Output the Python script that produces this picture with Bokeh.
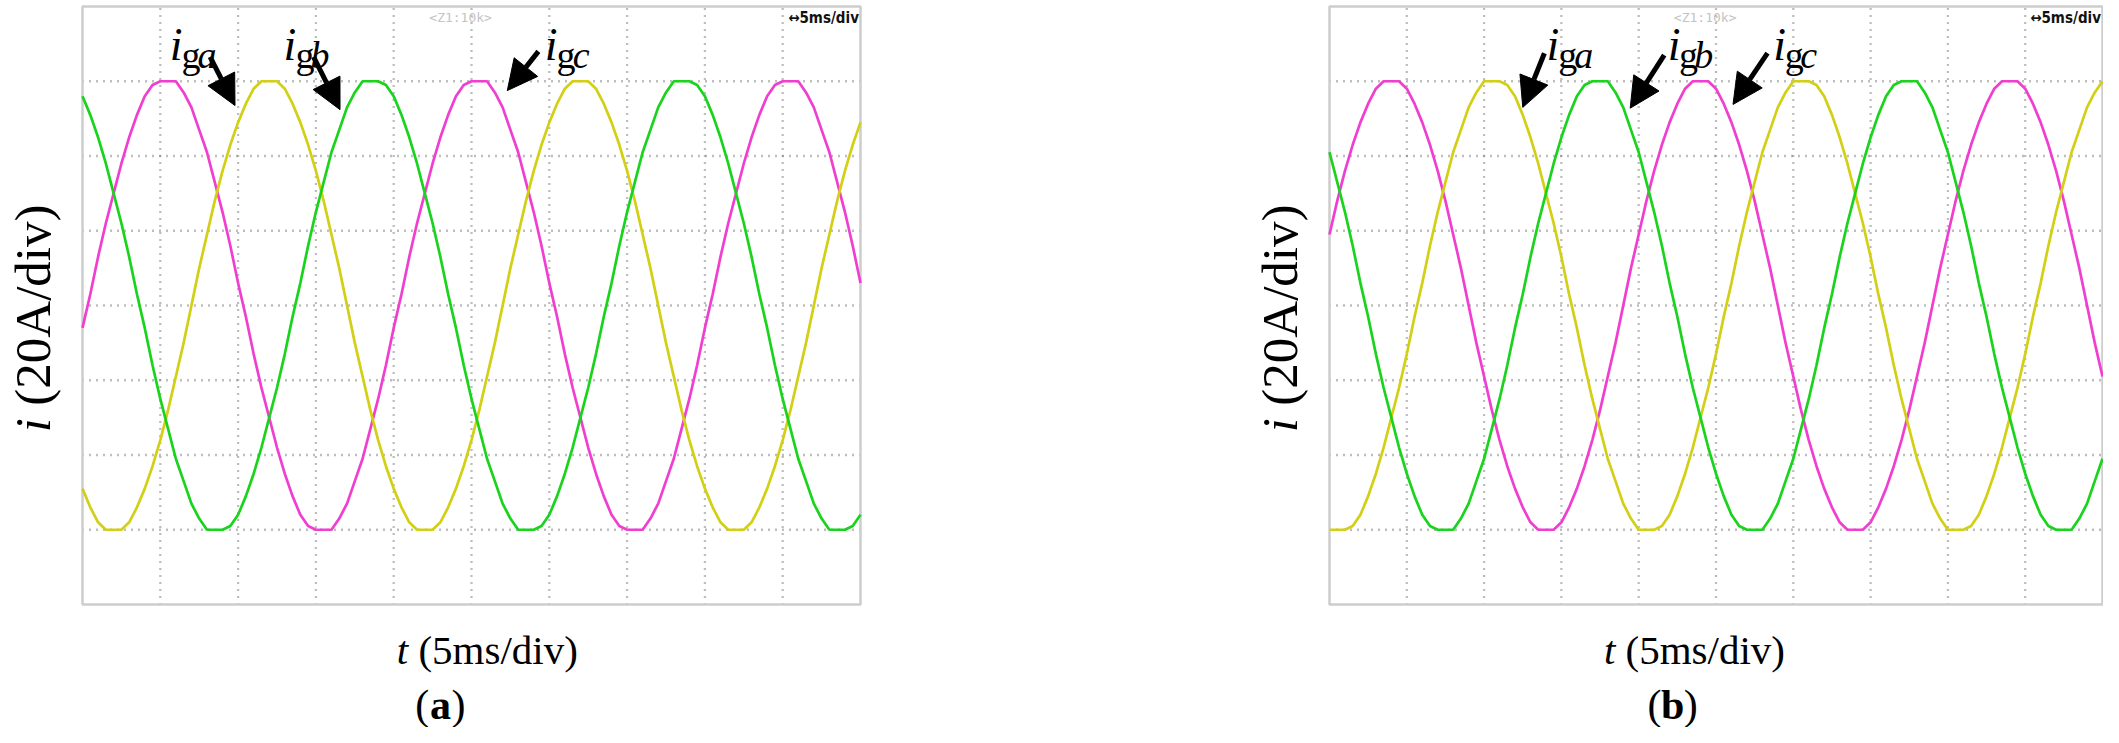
from bokeh.plotting import figure
from bokeh.layouts import row
from bokeh.models import Range1d, Label, Arrow, NormalHead
from bokeh.embed import file_html
from bokeh.resources import INLINE

# time samples (ms), 5 ms/div, 10 divisions
t_ms = [i * 0.5 for i in range(101)]

# ---- panel (a) currents, A (20 A/div) ----
ig_c_a = [-6,
          3, 13, 22, 30, 38, 45, 51, 56, 59, 60, 60, 60, 57, 53, 47, 41, 33, 25, 16, 6,
          -3, -13, -22, -30, -38, -45, -51, -56, -59, -60, -60, -60, -57, -53, -47, -41, -33, -25, -16, -6,
          3, 13, 22, 30, 38, 45, 51, 56, 59, 60, 60, 60, 57, 53, 47, 41, 33, 25, 16, 6,
          -3, -13, -22, -30, -38, -45, -51, -56, -59, -60, -60, -60, -57, -53, -47, -41, -33, -25, -16, -6,
          3, 13, 22, 30, 38, 45, 51, 56, 59, 60, 60, 60, 57, 53, 47, 41, 33, 25, 16, 6]
ig_a_a = [-49, -54, -58, -60, -60, -60, -58, -54, -49, -43, -36, -28, -19, -10,
          0, 10, 19, 28, 36, 43, 49, 54, 58, 60, 60, 60, 58, 54, 49, 43, 36, 28, 19, 10,
          0, -10, -19, -28, -36, -43, -49, -54, -58, -60, -60, -60, -58, -54, -49, -43, -36, -28, -19, -10,
          0, 10, 19, 28, 36, 43, 49, 54, 58, 60, 60, 60, 58, 54, 49, 43, 36, 28, 19, 10,
          0, -10, -19, -28, -36, -43, -49, -54, -58, -60, -60, -60, -58, -54, -49, -43, -36, -28, -19, -10,
          0, 10, 19, 28, 36, 43, 49]
ig_b_a = [56, 51, 45, 38, 30, 22, 13, 3, -6, -16, -25, -33, -41, -47, -53, -57, -60, -60, -60, -59,
          -56, -51, -45, -38, -30, -22, -13,
          -3, 6, 16, 25, 33, 41, 47, 53, 57, 60, 60, 60, 59, 56, 51, 45, 38, 30, 22, 13,
          3, -6, -16, -25, -33, -41, -47, -53, -57, -60, -60, -60, -59, -56, -51, -45, -38, -30, -22, -13,
          -3, 6, 16, 25, 33, 41, 47, 53, 57, 60, 60, 60, 59, 56, 51, 45, 38, 30, 22, 13,
          3, -6, -16, -25, -33, -41, -47, -53, -57, -60, -60, -60, -59, -56]

# ---- panel (b) currents ----
ig_c_b = [19, 28, 36, 43, 49, 54, 58, 60, 60, 60, 58, 54, 49, 43, 36, 28, 19, 10,
          0, -10, -19, -28, -36, -43, -49, -54, -58, -60, -60, -60, -58, -54, -49, -43, -36, -28, -19, -10,
          0, 10, 19, 28, 36, 43, 49, 54, 58, 60, 60, 60, 58, 54, 49, 43, 36, 28, 19, 10,
          0, -10, -19, -28, -36, -43, -49, -54, -58, -60, -60, -60, -58, -54, -49, -43, -36, -28, -19, -10,
          0, 10, 19, 28, 36, 43, 49, 54, 58, 60, 60, 60, 58, 54, 49, 43, 36, 28, 19, 10,
          0, -10, -19]
ig_a_b = [-60, -60, -60, -59, -56, -51, -45, -38, -30, -22, -13,
          -3, 6, 16, 25, 33, 41, 47, 53, 57, 60, 60, 60, 59, 56, 51, 45, 38, 30, 22, 13,
          3, -6, -16, -25, -33, -41, -47, -53, -57, -60, -60, -60, -59, -56, -51, -45, -38, -30, -22, -13,
          -3, 6, 16, 25, 33, 41, 47, 53, 57, 60, 60, 60, 59, 56, 51, 45, 38, 30, 22, 13,
          3, -6, -16, -25, -33, -41, -47, -53, -57, -60, -60, -60, -59, -56, -51, -45, -38, -30, -22, -13,
          -3, 6, 16, 25, 33, 41, 47, 53, 57, 60]
ig_b_b = [41, 33, 25, 16, 6, -3, -13, -22, -30, -38, -45, -51, -56, -59, -60, -60, -60, -57, -53,
          -47, -41, -33, -25, -16, -6,
          3, 13, 22, 30, 38, 45, 51, 56, 59, 60, 60, 60, 57, 53, 47, 41, 33, 25, 16, 6,
          -3, -13, -22, -30, -38, -45, -51, -56, -59, -60, -60, -60, -57, -53, -47, -41, -33, -25, -16, -6,
          3, 13, 22, 30, 38, 45, 51, 56, 59, 60, 60, 60, 57, 53, 47, 41, 33, 25, 16, 6,
          -3, -13, -22, -30, -38, -45, -51, -56, -59, -60, -60, -60, -57, -53, -47, -41]

t_div = [0, 5, 10, 15, 20, 25, 30, 35, 40, 45, 50]          # time divisions (ms)
i_div = [-80, -60, -40, -20, 0, 20, 40, 60, 80]             # current divisions (A)

col_a = "#d2cf14"   # i_ga yellow
col_b = "#19d31c"   # i_gb green
col_c = "#f03fd0"   # i_gc magenta
SERIF = "Liberation Serif"
INK = "#000000"

FIG_H = 727
SCOPE_TOP = 6          # px from figure top to screen top
SCOPE_H = 598          # px screen height
SCOPE_LEFT = 82        # px from figure left to screen left


def make_panel(ia, ib, ic, letter, fig_w, scope_w, labels, arrows, letter_x, tlab_x):
    xs = scope_w / (t_div[-1] - t_div[0])          # px per ms
    ys = SCOPE_H / (i_div[-1] - i_div[0])          # px per A
    x0 = t_div[0] - SCOPE_LEFT / xs
    x1 = t_div[0] + (fig_w - SCOPE_LEFT) / xs
    y1 = i_div[-1] + SCOPE_TOP / ys
    y0 = i_div[0] - (FIG_H - SCOPE_TOP - SCOPE_H) / ys
    p = figure(width=fig_w, height=FIG_H, x_range=Range1d(x0, x1), y_range=Range1d(y0, y1),
               x_axis_type=None, y_axis_type=None, title=None, toolbar_location=None,
               output_backend="svg", min_border=0, background_fill_color="white",
               border_fill_color="white")
    p.outline_line_color = None

    # dotted graticule
    vx = t_div[1:-1]
    hy = i_div[1:-1]
    p.segment(x0=vx, y0=[i_div[0]] * len(vx), x1=vx, y1=[i_div[-1]] * len(vx),
              line_color="#7d7d7d", line_width=2.3, line_dash="1 6")
    p.segment(x0=[t_div[0]] * len(hy), y0=hy, x1=[t_div[-1]] * len(hy), y1=hy,
              line_color="#7d7d7d", line_width=2.3, line_dash="1 6")
    p.quad(left=[t_div[0]], right=[t_div[-1]], bottom=[i_div[0]], top=[i_div[-1]],
           fill_color=None, line_color="#cdcdcd", line_width=2.5)

    p.line(t_ms, ic, line_color=col_c, line_width=2.7)
    p.line(t_ms, ia, line_color=col_a, line_width=2.7)
    p.line(t_ms, ib, line_color=col_b, line_width=2.7)

    # scope header texts
    p.add_layout(Label(x=24.3, y=77, text="<Z1:10k>", text_font="DejaVu Sans Mono",
                       text_font_size="13px", text_color="#c4c4c4", text_align="center",
                       text_baseline="middle"))
    p.add_layout(Label(x=49.9, y=76.8, text="\u21945ms/div", text_font="DejaVu Sans Condensed",
                       text_font_size="15px", text_font_style="bold", text_color="#111111",
                       text_align="right", text_baseline="middle"))

    # curve labels i_g{a,b,c}
    for (xi, xg, xs_, sub) in labels:
        p.add_layout(Label(x=xi, y=69.8, text="i", text_font=SERIF, text_font_size="46px",
                           text_font_style="italic", text_align="left", text_baseline="alphabetic",
                           text_color=INK))
        p.add_layout(Label(x=xg, y=66.9, text="g", text_font=SERIF, text_font_size="38px",
                           text_align="left", text_baseline="alphabetic", text_color=INK))
        p.add_layout(Label(x=xs_, y=66.9, text=sub, text_font=SERIF, text_font_size="38px",
                           text_font_style="italic", text_align="left", text_baseline="alphabetic",
                           text_color=INK))
    for (xa, ya, xb, yb) in arrows:
        p.add_layout(Arrow(end=NormalHead(size=30, fill_color="black", line_color="black"),
                           x_start=xa, y_start=ya, x_end=xb, y_end=yb,
                           line_width=5, line_color="black"))

    # axis titles
    p.add_layout(Label(x=-3.18, y=-33.9, text="i", text_font=SERIF, text_font_size="51px",
                       text_font_style="italic", angle=1.5708, text_align="left",
                       text_baseline="middle", text_color=INK))
    p.add_layout(Label(x=-3.18, y=-26.8, text="(20A/div)", text_font=SERIF, text_font_size="51px",
                       angle=1.5708, text_align="left", text_baseline="middle", text_color=INK))
    p.add_layout(Label(x=tlab_x, y=-92.2, text="t", text_font=SERIF, text_font_size="41px",
                       text_font_style="italic", text_align="left", text_baseline="alphabetic",
                       text_color=INK))
    p.add_layout(Label(x=tlab_x + 21.6 / xs, y=-92.2, text="(5ms/div)", text_font=SERIF,
                       text_font_size="41px", text_align="left", text_baseline="alphabetic",
                       text_color=INK))
    # panel letter
    cx = letter_x
    p.add_layout(Label(x=cx - 0.72, y=-107, text="(", text_font=SERIF, text_font_size="42px",
                       text_align="right", text_baseline="alphabetic", text_color=INK))
    p.add_layout(Label(x=cx, y=-107, text=letter, text_font=SERIF, text_font_size="42px",
                       text_font_style="bold", text_align="center", text_baseline="alphabetic",
                       text_color=INK))
    p.add_layout(Label(x=cx + 0.72, y=-107, text=")", text_font=SERIF, text_font_size="42px",
                       text_align="left", text_baseline="alphabetic", text_color=INK))
    return p


labels_a = [(5.6, 6.36, 7.39, "a"), (12.92, 13.69, 14.66, "b"), (29.7, 30.47, 31.5, "c")]
arrows_a = [(8.2, 66.5, 9.8, 53.5), (14.85, 66.5, 16.55, 52.4), (29.3, 68.0, 27.3, 57.5)]
labels_b = [(14.03, 14.8, 15.83, "a"), (21.88, 22.6, 23.6, "b"), (28.7, 29.45, 30.45, "c")]
arrows_b = [(13.9, 67.5, 12.5, 53.0), (21.65, 67.0, 19.45, 52.8), (28.33, 67.5, 26.1, 53.8)]

pa = make_panel(ig_a_a, ig_b_a, ig_c_a, "a", 1247, 778, labels_a, arrows_a, 23.0, 20.2)
pb = make_panel(ig_a_b, ig_b_b, ig_c_b, "b", 856, 773, labels_b, arrows_b, 22.2, 17.75)

layout = row(pa, pb)
open("out.html", "w").write(file_html(layout, INLINE))
